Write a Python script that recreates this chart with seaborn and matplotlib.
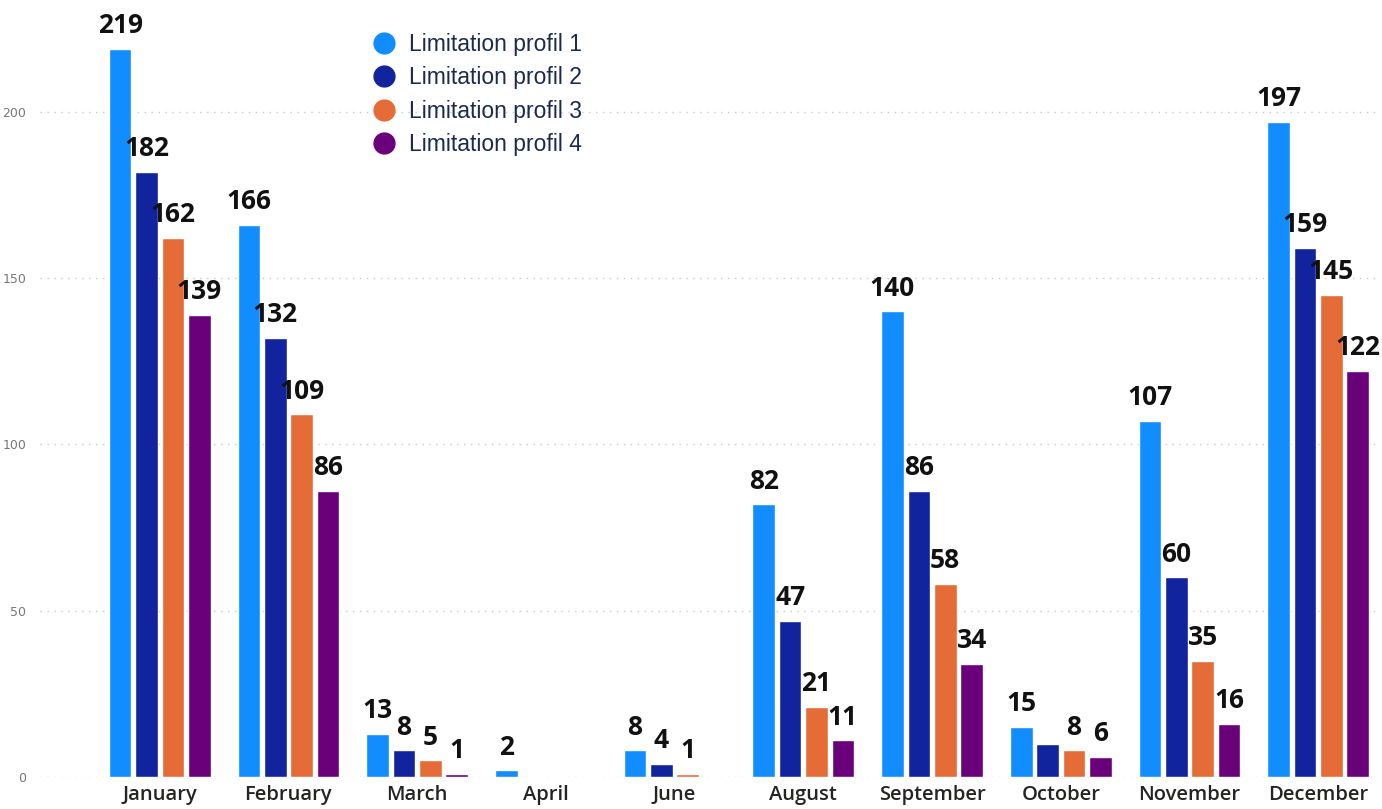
import pandas as pd
import seaborn as sns
import matplotlib.pyplot as plt

months = ['January', 'February', 'March', 'April', 'June', 'August',
          'September', 'October', 'November', 'December']
profiles = ['Limitation profil 1', 'Limitation profil 2',
            'Limitation profil 3', 'Limitation profil 4']
profil_1 = [219, 166, 13, 2, 8, 82, 140, 15, 107, 197]
profil_2 = [182, 132, 8, 0, 4, 47, 86, 10, 60, 159]
profil_3 = [162, 109, 5, 0, 1, 21, 58, 8, 35, 145]
profil_4 = [139, 86, 1, 0, 0, 11, 34, 6, 16, 122]
# the October value of profil 2 has no label in the original
hidden = [('Limitation profil 2', 'October')]
colors = ['#118DFF', '#12239E', '#E66C37', '#6B007B']

rows = []
for p, vals in zip(profiles, [profil_1, profil_2, profil_3, profil_4]):
    for m, v in zip(months, vals):
        rows.append({'month': m, 'profile': p, 'count': v})
df = pd.DataFrame(rows)

sns.set_style('white')
fig = plt.figure(figsize=(13.82, 8.09), dpi=100)
ax = fig.add_axes([40/1382, 32/809, 1340/1382, 765/809])

sns.barplot(data=df, x='month', y='count', hue='profile', order=months,
            hue_order=profiles, palette=colors, width=0.82, gap=0.14,
            saturation=1, legend=False, ax=ax)

for cont, p in zip(ax.containers, profiles):
    labels = []
    for m, v in zip(months, df[df.profile == p]['count']):
        if v == 0 or (p, m) in hidden:
            labels.append('')
        else:
            labels.append(str(v))
    ax.bar_label(cont, labels=labels, padding=7, fontsize=19,
                 fontweight='bold', color='#111111', family='Open Sans')

ax.set_xlim(-0.93, 9.48)
ax.set_ylim(0, 230)
ax.set_yticks([0, 50, 100, 150, 200])
ax.yaxis.grid(True, linestyle=(0, (1, 4)), color='#c8c8c8', linewidth=1)
ax.set_axisbelow(True)
for s in ax.spines.values():
    s.set_visible(False)
ax.tick_params(axis='y', length=0, pad=10, labelsize=9, labelcolor='#777777')
ax.tick_params(axis='x', length=0, pad=6, labelsize=14.5, labelcolor='#252423')
for t in ax.get_xticklabels():
    t.set_fontweight('semibold')
    t.set_family('Open Sans')
ax.set_xlabel('')
ax.set_ylabel('')

handles = [plt.Line2D([], [], marker='o', linestyle='', markersize=15,
                      color=c) for c in colors]
leg = ax.legend(handles, profiles, loc='upper left',
                bbox_to_anchor=(312/1340, 1 - 12/765), frameon=False,
                handletextpad=0.1, labelspacing=0.45, borderaxespad=0,
                prop={'family': 'Liberation Sans', 'size': 16.5})
for t in leg.get_texts():
    t.set_color('#1b2a4e')

plt.savefig('out.png', dpi=100)
